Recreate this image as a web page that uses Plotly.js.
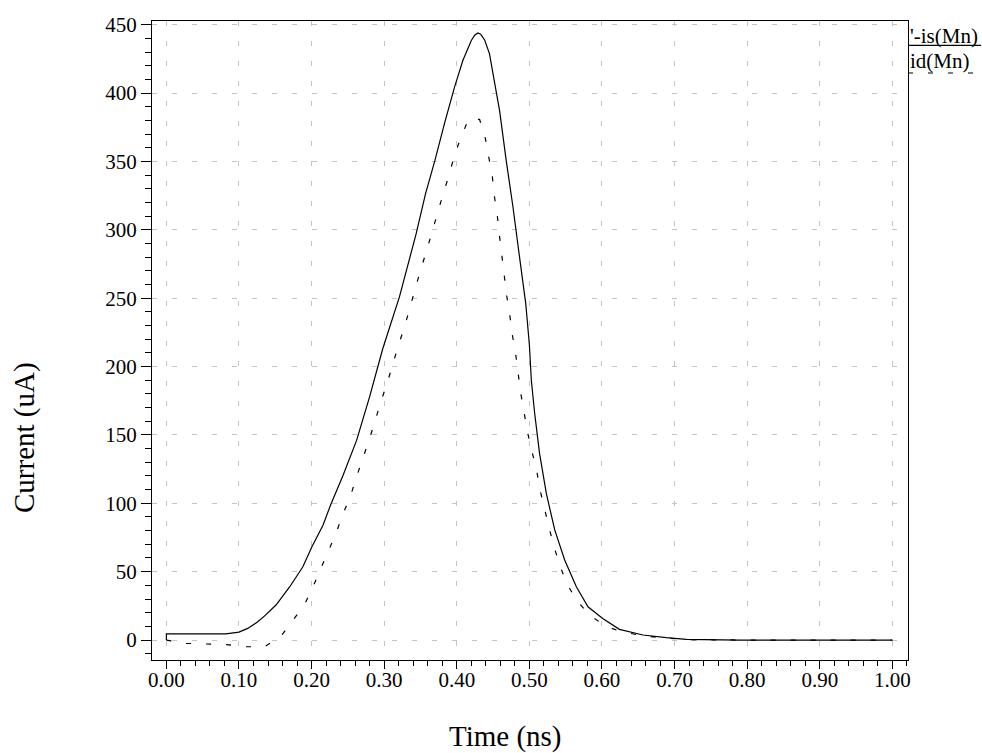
<!DOCTYPE html>
<html>
<head>
<meta charset="utf-8">
<script src="https://cdn.plot.ly/plotly-3.0.1.min.js"></script>
<style>
  html, body { margin: 0; padding: 0; background: #ffffff; }
  #chart { width: 982px; height: 753px; }
</style>
</head>
<body>
<div id="chart"></div>
<script>
// Time (ns) and current (uA) samples
var isTime = [0, 0, 0.02, 0.04, 0.06, 0.082, 0.1, 0.112, 0.125, 0.135, 0.151, 0.170, 0.188, 0.2005, 0.2157, 0.227, 0.243, 0.262, 0.28, 0.298, 0.321, 0.344, 0.357, 0.370, 0.383, 0.397, 0.4085, 0.415, 0.42, 0.425, 0.429, 0.433, 0.4385, 0.445, 0.452, 0.459, 0.468, 0.4774, 0.487, 0.495, 0.5, 0.5027, 0.5073, 0.514, 0.5234, 0.535, 0.5486, 0.5647, 0.5807, 0.601, 0.624, 0.6565, 0.6887, 0.7163, 0.79, 0.9, 1.0];
var isCurrent = [0, 4.5, 4.5, 4.5, 4.5, 4.5, 5.8, 8.5, 13, 17.5, 25.6, 39, 53.6, 68.2, 84, 99.9, 120, 146, 178, 213, 251, 297, 326.5, 350.9, 377.7, 404.5, 424, 432, 438.5, 442.5, 444, 443, 438.6, 428.9, 409, 387, 351, 316.7, 277.8, 246, 216, 190, 165.7, 136.5, 107, 80.4, 58.5, 39, 24.3, 15.8, 7.8, 3.7, 1.7, 0.5, 0, 0, 0];

var idTime = [0, 0.0275, 0.055, 0.083, 0.11, 0.135, 0.158, 0.174, 0.19, 0.202, 0.212, 0.2236, 0.234, 0.243, 0.2534, 0.262, 0.271, 0.279, 0.2874, 0.295, 0.304, 0.311, 0.3196, 0.328, 0.335, 0.343, 0.350, 0.358, 0.3655, 0.373, 0.381, 0.389, 0.396, 0.405, 0.4155, 0.423, 0.4315, 0.4394, 0.444, 0.449, 0.452, 0.456, 0.459, 0.4623, 0.4656, 0.4687, 0.473, 0.4766, 0.481, 0.4843, 0.488, 0.4926, 0.497, 0.503, 0.5096, 0.514, 0.520, 0.5266, 0.5335, 0.5417, 0.551, 0.5647, 0.583, 0.6037, 0.624, 0.6565, 0.6887, 0.7163, 0.79, 0.9, 1.0];
var idCurrent = [0, -2.4, -2.9, -3.4, -4.9, -4.9, 2.9, 13.9, 25.6, 39, 51.7, 65.3, 78.5, 92, 105, 119.4, 132.8, 146, 160, 173.7, 187.6, 201, 215.6, 229, 242.5, 256.4, 270.5, 284, 298, 312, 325.8, 339.4, 352.9, 366.7, 380, 382, 380.6, 366.7, 352.9, 338.7, 324, 309.5, 294.8, 280, 266, 252, 237.6, 223, 209.6, 195, 180.8, 166.9, 153, 139, 125.5, 111.3, 97.4, 83.3, 69, 54.8, 41.9, 29.2, 18.3, 10.5, 6.5, 3.0, 1.4, 0.4, 0, 0, 0];

var seriesNames = ["'-is(Mn)", "id(Mn)"];
var xTitle = "Time (ns)";
var yTitle = "Current (uA)";

var serif = "'Liberation Serif', 'Times New Roman', serif";

var traces = [
  {x: isTime, y: isCurrent, type: 'scatter', mode: 'lines', name: seriesNames[0],
   line: {color: '#000000', width: 1.2}, hoverinfo: 'skip'},
  {x: idTime, y: idCurrent, type: 'scatter', mode: 'lines', name: seriesNames[1],
   line: {color: '#000000', width: 1.2, dash: '5px,15px'}, hoverinfo: 'skip'}
];

var axisCommon = {
  showline: true, mirror: true, linecolor: '#000000', linewidth: 1,
  showgrid: true, gridcolor: '#c4c4c4', gridwidth: 1, griddash: '5px,15px',
  zeroline: false, ticks: 'outside', tickcolor: '#000000', tickwidth: 1,
  tickfont: {family: serif, size: 21, color: '#000000'}
};

var layout = {
  width: 982, height: 753,
  margin: {l: 152, r: 74, t: 21, b: 93, pad: 0},
  paper_bgcolor: '#ffffff', plot_bgcolor: '#ffffff',
  showlegend: false,
  font: {family: serif, color: '#000000'},
  xaxis: Object.assign({}, axisCommon, {
    range: [-0.0198, 1.0215], tick0: 0, dtick: 0.1, tickformat: '.2f', ticklen: 8,
    ticklabelstandoff: -7,
    minor: {dtick: 0.02, tick0: 0, ticklen: 5, tickcolor: '#000000', ticks: 'outside', showgrid: false}
  }),
  yaxis: Object.assign({}, axisCommon, {
    range: [-14.6, 452.7], tick0: 0, dtick: 50, ticklen: 10,
    minor: {dtick: 10, tick0: 0, ticklen: 6, tickcolor: '#000000', ticks: 'outside', showgrid: false}
  }),
  annotations: [
    {text: xTitle, xref: 'paper', yref: 'paper', x: 0.467, y: -0.12, xanchor: 'center', yanchor: 'middle',
     showarrow: false, font: {family: serif, size: 29, color: '#000000'}},
    {text: yTitle, xref: 'paper', yref: 'paper', x: -0.168, y: 0.349, xanchor: 'center', yanchor: 'middle',
     textangle: -90, showarrow: false, font: {family: serif, size: 29, color: '#000000'}},
    {text: seriesNames[0], xref: 'paper', yref: 'paper', x: 1.0, y: 0.9765, xanchor: 'left', yanchor: 'middle',
     showarrow: false, font: {family: serif, size: 21, color: '#000000'}},
    {text: seriesNames[1], xref: 'paper', yref: 'paper', x: 1.0, y: 0.938, xanchor: 'left', yanchor: 'middle',
     showarrow: false, font: {family: serif, size: 21, color: '#000000'}}
  ],
  shapes: [
    {type: 'line', xref: 'paper', yref: 'paper', x0: 1.0, x1: 1.0966, y0: 0.962, y1: 0.962,
     line: {color: '#000000', width: 1.2}},
    {type: 'line', xref: 'paper', yref: 'paper', x0: 1.0, x1: 1.0966, y0: 0.9186, y1: 0.9186,
     line: {color: '#000000', width: 1.2, dash: '5px,15px'}}
  ]
};

Plotly.newPlot('chart', traces, layout, {displayModeBar: false, staticPlot: true});
</script>
</body>
</html>
